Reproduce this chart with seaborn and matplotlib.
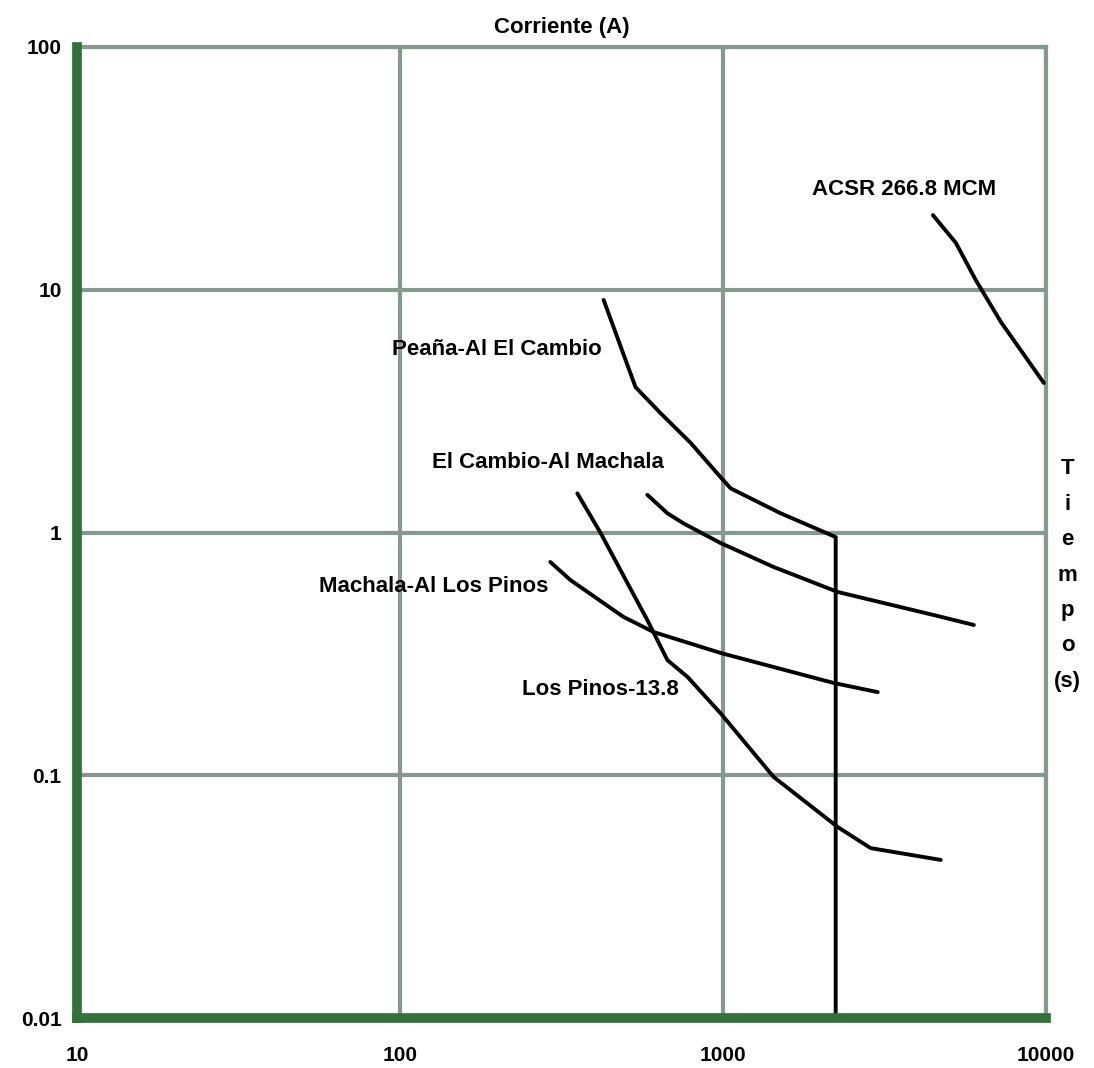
"""Curvas de coordinación de protecciones (tiempo vs corriente), escala log-log."""
import matplotlib

matplotlib.use("Agg")
import matplotlib.pyplot as plt
import pandas as pd
import seaborn as sns
from matplotlib.ticker import FixedLocator, FixedFormatter, NullLocator

# --- datos ---
acsr_i = [4466, 5260, 6063, 7250, 9850]
acsr_t = [20.3, 15.6, 10.96, 7.37, 4.13]

penia_i = [427, 536, 641, 794, 983, 1056, 1508, 2233, 2233]
penia_t = [9.08, 3.97, 3.10, 2.34, 1.69, 1.52, 1.20, 0.958, 0.01]

cambio_i = [583, 673, 755, 983, 1435, 2265, 4494, 5979]
cambio_t = [1.43, 1.20, 1.09, 0.905, 0.721, 0.569, 0.457, 0.416]

machala_i = [292, 337, 492, 610, 983, 2202, 3013]
machala_t = [0.756, 0.637, 0.449, 0.389, 0.319, 0.240, 0.220]

pinos_i = [354, 418, 506, 583, 673, 777, 983, 1435, 2265, 2866, 4722]
pinos_t = [1.45, 0.995, 0.619, 0.436, 0.298, 0.254, 0.180, 0.0984, 0.0612, 0.0501, 0.0448]

curve_names = ["ACSR 266.8 MCM", "Peaña-Al El Cambio", "El Cambio-Al Machala",
               "Machala-Al Los Pinos", "Los Pinos-13.8"]
label_pos = [(3630, 25.8), (200, 5.7), (288, 1.95), (127, 0.60), (418, 0.225)]

x_ticks = [10, 100, 1000, 10000]
y_ticks = [0.01, 0.1, 1, 10, 100]
y_tick_labels = ["0.01", "0.1", "1", "10", "100"]

GRID = "#86998f"
GREEN = "#33703a"

sns.set_style("white")
plt.rcParams["font.family"] = ["Liberation Sans", "DejaVu Sans"]
plt.rcParams["font.weight"] = "bold"
plt.rcParams["text.color"] = "black"
plt.rcParams["xtick.color"] = "black"
plt.rcParams["ytick.color"] = "black"

fig = plt.figure(figsize=(10.94, 10.68), dpi=100)
ax = fig.add_axes([0.0704, 0.0468, 0.8857, 0.9092])

series = [(acsr_i, acsr_t), (penia_i, penia_t), (cambio_i, cambio_t),
          (machala_i, machala_t), (pinos_i, pinos_t)]
for name, (i_vals, t_vals) in zip(curve_names, series):
    df = pd.DataFrame({"I": i_vals, "t": t_vals})
    sns.lineplot(data=df, x="I", y="t", sort=False, estimator=None,
                 color="black", linewidth=2.8, ax=ax, zorder=3)

ax.set_xscale("log")
ax.set_yscale("log")
ax.set_xlim(10, 10000)
ax.set_ylim(0.01, 100)

ax.xaxis.set_major_locator(FixedLocator(x_ticks))
ax.xaxis.set_major_formatter(FixedFormatter([str(v) for v in x_ticks]))
ax.xaxis.set_minor_locator(NullLocator())
ax.yaxis.set_major_locator(FixedLocator(y_ticks))
ax.yaxis.set_major_formatter(FixedFormatter(y_tick_labels))
ax.yaxis.set_minor_locator(NullLocator())
ax.tick_params(length=0, labelsize=15, labelcolor="black")
ax.tick_params(axis="y", pad=11)
ax.tick_params(axis="x", pad=20)
for lab in ax.get_xticklabels() + ax.get_yticklabels():
    lab.set_fontweight("heavy")

ax.grid(True, color=GRID, linewidth=3)
ax.set_axisbelow(True)
ax.set_xlabel("")
ax.set_ylabel("")

for side in ("left", "bottom"):
    ax.spines[side].set_color(GREEN)
    ax.spines[side].set_linewidth(7)
    ax.spines[side].set_zorder(5)
for side in ("top", "right"):
    ax.spines[side].set_color(GRID)
    ax.spines[side].set_linewidth(3)

for name, (xp, yp) in zip(curve_names, label_pos):
    ax.text(xp, yp, name, ha="center", va="center", fontsize=16,
            fontweight="heavy", color="black", zorder=4)

ax.set_title("Corriente (A)", fontsize=16, fontweight="heavy", color="black", pad=10)

fig.text(0.976, 0.4616, "T\ni\ne\nm\np\no\n(s)", ha="center", va="center",
         fontsize=16, fontweight="heavy", color="black", linespacing=1.9)

fig.savefig("out.png", dpi=100)
plt.close(fig)
